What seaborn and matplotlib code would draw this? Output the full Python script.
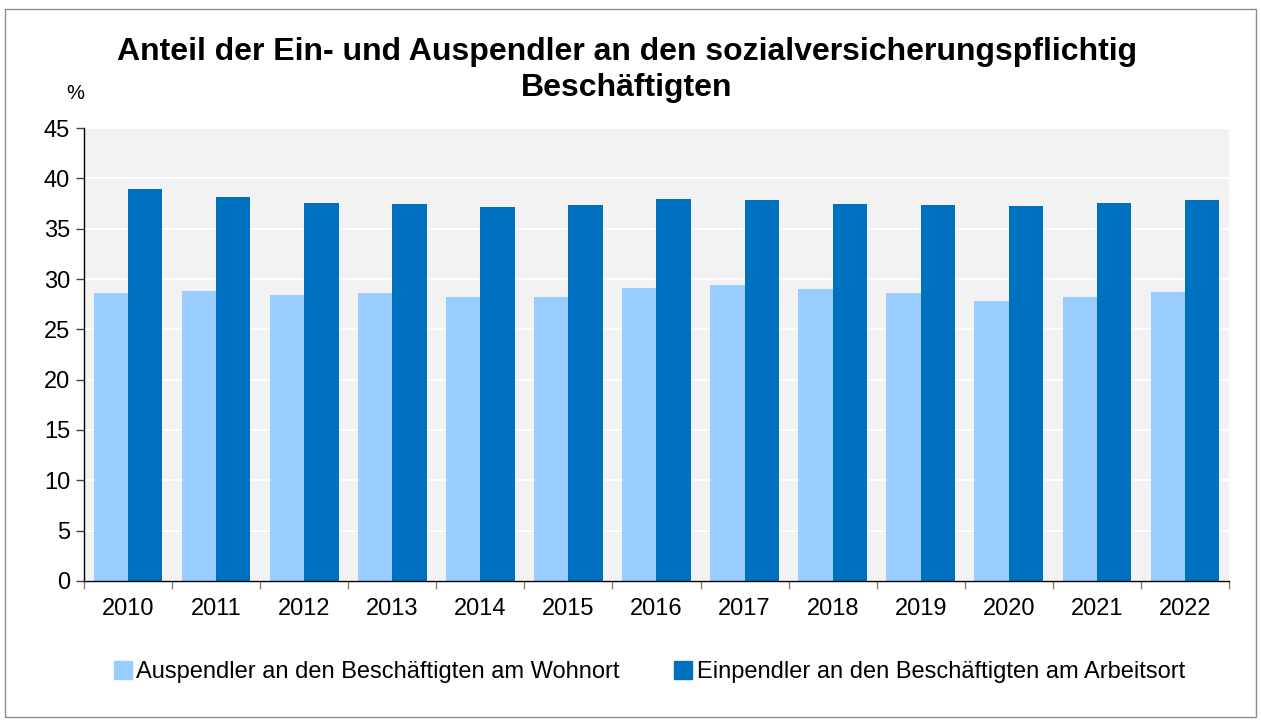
import pandas as pd
import matplotlib.pyplot as plt
import matplotlib.patches as mpatches
import seaborn as sns

years = ['2010', '2011', '2012', '2013', '2014', '2015', '2016', '2017', '2018', '2019', '2020', '2021', '2022']
auspendler = [28.6, 28.8, 28.4, 28.6, 28.2, 28.2, 29.1, 29.4, 29.0, 28.6, 27.8, 28.2, 28.7]
einpendler = [38.9, 38.1, 37.6, 37.5, 37.2, 37.4, 37.9, 37.8, 37.5, 37.4, 37.3, 37.6, 37.8]

label_aus = 'Auspendler an den Beschäftigten am Wohnort'
label_ein = 'Einpendler an den Beschäftigten am Arbeitsort'

df = pd.DataFrame({'Jahr': years * 2,
                   'Anteil': auspendler + einpendler,
                   'Reihe': [label_aus] * len(years) + [label_ein] * len(years)})

sns.set_theme(style='white')
plt.rcParams['font.family'] = ['Liberation Sans', 'DejaVu Sans']
plt.rcParams['text.color'] = 'black'
plt.rcParams['xtick.color'] = 'black'
plt.rcParams['ytick.color'] = 'black'

fig = plt.figure(figsize=(12.61, 7.22), dpi=100)
ax = fig.add_axes([0.0666, 0.1953, 0.908, 0.6274])
ax.set_facecolor('#F2F2F2')

sns.barplot(data=df, x='Jahr', y='Anteil', hue='Reihe',
            palette=['#99CCFF', '#0070C0'], width=0.78, gap=0,
            saturation=1, linewidth=0, ax=ax, legend=False)

ax.set_ylim(0, 45)
ax.set_xlim(-0.5, len(years) - 0.5)
ax.set_yticks(range(0, 46, 5))
ax.yaxis.grid(True, color='white', linewidth=1.5)
ax.set_axisbelow(True)
ax.set_xlabel('')
ax.set_ylabel('')

# x ticks: marks on the category boundaries, labels in the middle
ax.set_xticks([i - 0.5 for i in range(len(years) + 1)])
ax.set_xticklabels([])
ax.set_xticks(range(len(years)), minor=True)
ax.set_xticklabels(years, minor=True)
ax.tick_params(axis='x', which='major', length=6, width=1, color='#808080', direction='out', bottom=True)
ax.tick_params(axis='x', which='minor', length=0, labelsize=17, pad=12, labelcolor='black')
ax.tick_params(axis='y', length=6, width=1, color='#404040', direction='out', left=True,
               labelsize=17, pad=4, labelcolor='black')

for side in ['top', 'right']:
    ax.spines[side].set_visible(False)
ax.spines['left'].set_color('black')
ax.spines['bottom'].set_color('black')
ax.spines['left'].set_linewidth(1)
ax.spines['bottom'].set_linewidth(1)

fig.text(0.497, 0.903, 'Anteil der Ein- und Auspendler an den sozialversicherungspflichtig\nBeschäftigten',
         ha='center', va='center', fontsize=23, fontweight='bold', linespacing=1.3, color='black')
fig.text(0.06, 0.871, '%', ha='center', va='center', fontsize=14.5, color='black')

handles = [mpatches.Patch(color='#99CCFF', label=label_aus),
           mpatches.Patch(color='#0070C0', label=label_ein)]
fig.legend(handles=handles, loc='center', bbox_to_anchor=(0.515, 0.069), ncol=2, frameon=False,
           fontsize=17, handlelength=0.75, handleheight=0.75, handletextpad=0.2, columnspacing=2.3,
           labelcolor='black')

fig.patches.append(mpatches.Rectangle((0.004, 0.007), 0.992, 0.981, transform=fig.transFigure,
                                      fill=False, edgecolor='#8C8C8C', linewidth=1))

plt.savefig('out.png', dpi=100)
